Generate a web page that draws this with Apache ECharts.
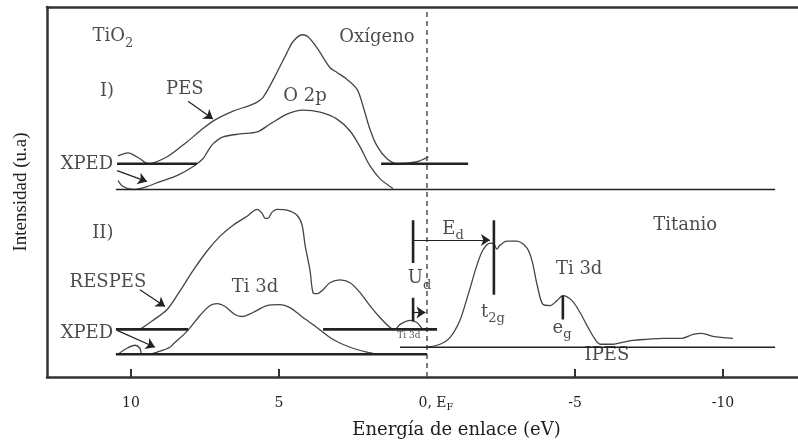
<!DOCTYPE html>
<html><head><meta charset="utf-8">
<script src="https://cdn.jsdelivr.net/npm/echarts@6/dist/echarts.min.js"></script>
<style>html,body{margin:0;padding:0;background:#fff}#c{width:798px;height:444px}</style>
</head><body><div id="c"></div>
<script>
// ---- Data (x = binding energy in eV, y = intensity in arbitrary units) ----
const xTickValues = [10, 5, -5, -10];
const xLabelValues = [10, 5, 0, -5, -10];
const fermiLevel = [[0,0],[0,373]];

// Panel I (Oxygen)
const pesI = [[10.44,223],[10.10,226],[9.70,220],[9.43,215],[8.78,222],[8.11,237],[7.67,248],[7.23,258],[6.55,268],[5.88,275],[5.54,282],[5.07,307],[4.73,327],[4.53,338],[4.22,345],[4.02,343],[3.72,332],[3.28,312],[3.04,307],[2.70,300],[2.36,290],[2.16,273],[1.93,250],[1.69,233],[1.35,220],[1.01,215],[0.34,217],[-0.05,222]];
const o2pI = [[10.44,198],[10.27,192],[9.93,189],[9.46,192],[9.02,197],[8.45,203],[7.91,212],[7.57,220],[7.40,228],[7.23,235],[6.89,242],[6.32,245],[5.74,247],[5.30,255],[4.73,265],[4.19,269],[3.61,267],[3.04,260],[2.60,248],[2.26,232],[1.93,213],[1.59,200],[1.15,190]];
const baselineI = [[10.51,189],[-11.76,189]];
const xpedI_a = [[10.47,215],[7.77,215]];
const xpedI_b = [[1.55,215],[-1.39,215]];

// Panel II (Titanium)
const respesII = [[9.70,48],[9.26,57],[8.78,68],[8.34,87],[7.91,107],[7.43,127],[6.99,142],[6.55,153],[6.08,162],[5.74,169],[5.57,165],[5.47,160],[5.37,160],[5.24,166],[5.07,169],[4.70,168],[4.39,163],[4.22,153],[4.12,133],[3.95,107],[3.85,85],[3.72,84],[3.51,88],[3.28,95],[2.94,98],[2.60,95],[2.26,85],[1.93,72],[1.59,60],[1.25,50],[1.08,48],[0.91,53],[0.57,57],[0.34,55],[0.20,50],[0.14,48]];
const ti3dII = [[10.44,23],[10.14,29],[9.86,32],[9.70,29],[9.63,23],[9.36,23],[9.12,25],[8.68,30],[8.58,33],[8.11,46],[7.67,62],[7.33,72],[7.09,74],[6.82,71],[6.49,63],[6.25,61],[5.88,65],[5.41,72],[4.97,73],[4.63,70],[4.19,60],[3.72,50],[3.18,38],[2.60,30],[2.03,25],[1.69,23]];
const ipesII = [[0,30],[-0.44,33],[-0.78,40],[-1.11,57],[-1.39,83],[-1.69,113],[-1.89,128],[-2.13,135],[-2.26,134],[-2.36,129],[-2.47,133],[-2.70,137],[-3.04,137],[-3.38,130],[-3.55,117],[-3.72,93],[-3.92,73],[-4.16,72],[-4.39,77],[-4.59,82],[-4.90,77],[-5.17,65],[-5.44,50],[-5.68,38],[-5.85,33],[-6.28,33],[-6.76,36],[-6.96,37],[-7.43,38],[-7.97,39],[-8.61,39],[-8.99,43],[-9.29,44],[-9.66,41],[-10.34,39]];
const baseII = [[10.51,23],[0,23]];
const baseIIright = [[0.91,30],[-11.76,30]];
const xpedII_a = [[10.51,48],[8.07,48]];
const xpedII_b = [[3.51,48],[-0.34,48]];

// Markers (vertical bars)
const udTop = [[0.47,158],[0.47,115]];
const udBottom = [[0.47,80],[0.47,56]];
const t2gBar = [[-2.26,158],[-2.26,83]];
const egBar = [[-4.59,82],[-4.59,58]];

// Arrows [from, to]
const arrows = [
  [[8.07,278],[7.23,260]],
  [[10.47,208],[9.46,197]],
  [[9.70,88],[8.85,71]],
  [[10.47,47],[9.19,30]],
  [[0.47,65],[0.05,65]],
  [[0.47,138],[-2.13,138]]
];

// Text annotations [x, y, text]
const annotations = [
  [10.61,343,'{n|TiO}{s|2}'],
  [10.81,288,'I)'],
  [8.18,290,'PES'],
  [4.12,283,'O 2p'],
  [1.69,342,'Oxígeno'],
  [11.49,214,'XPED'],
  [10.95,145,'II)'],
  [10.78,95,'RESPES'],
  [5.81,90,'Ti 3d'],
  [11.49,44,'XPED'],
  [0.25,99,'{n|U}{s|d}'],
  [0.61,42,'{t|Ti 3d}'],
  [-0.88,149,'{n|E}{s|d}'],
  [-8.72,153,'Titanio'],
  [-5.14,109,'Ti 3d'],
  [-2.23,65,'{n|t}{s|2g}'],
  [-4.56,49,'{n|e}{s|g}'],
  [-6.08,22,'IPES']
];

// ---- Chart ----
const FONT = 'DejaVu Serif';
const TXT = '#1e1e1e';
const chart = echarts.init(document.getElementById('c'), null, {renderer: 'canvas'});

function curve(data) {
  return {type: 'line', data: data, symbol: 'none', smooth: 0.3, silent: true,
    lineStyle: {width: 1.3, color: '#444'}, z: 3};
}
function seg(data, w) {
  return {type: 'line', data: data, symbol: 'none', smooth: false, silent: true,
    lineStyle: {width: w, color: '#222'}, z: 4};
}

const series = [
  {type: 'line', data: fermiLevel, symbol: 'none', silent: true, z: 2,
    lineStyle: {type: [5, 4], width: 1.4, color: '#444'}},
  curve(pesI), curve(o2pI), curve(respesII), curve(ti3dII), curve(ipesII),
  seg(baselineI, 1.3), seg(baseIIright, 1.3),
  seg(xpedI_a, 2.6), seg(xpedI_b, 2.6), seg(xpedII_a, 2.6), seg(xpedII_b, 2.6), seg(baseII, 2.6),
  seg(udTop, 2.6), seg(udBottom, 2.6), seg(t2gBar, 2.6), seg(egBar, 2.6),
  {
    type: 'line', data: [], silent: true,
    markLine: {
      silent: true, animation: false,
      symbol: ['none', 'arrow'], symbolSize: 9,
      label: {show: false},
      lineStyle: {type: 'solid', width: 1.2, color: '#222'},
      itemStyle: {color: '#222'},
      data: arrows.map(a => [{coord: a[0]}, {coord: a[1]}])
    }
  },
  {
    type: 'scatter', silent: true, symbolSize: 1, itemStyle: {color: 'rgba(0,0,0,0)'}, z: 5,
    data: annotations.map(a => ({value: [a[0], a[1]], label: {formatter: a[2]}})),
    label: {
      show: true, position: 'inside', fontFamily: FONT, fontSize: 18, color: TXT,
      rich: {
        n: {fontFamily: FONT, fontSize: 18, lineHeight: 26, color: TXT},
        s: {fontFamily: FONT, fontSize: 13, lineHeight: 14, verticalAlign: 'bottom', color: TXT},
        t: {fontFamily: FONT, fontSize: 9, color: TXT}
      }
    }
  }
];

chart.setOption({
  animation: false,
  grid: {left: 47, right: 0, top: 7, bottom: 64},
  xAxis: [
    {
      type: 'value', inverse: true, min: -12.534, max: 12.838,
      name: 'Energía de enlace (eV)', nameLocation: 'middle', nameGap: 44,
      nameTextStyle: {fontFamily: FONT, fontSize: 18, color: TXT, padding: [0, 0, 0, 68]},
      axisLine: {show: true, onZero: false, lineStyle: {color: '#333', width: 2.5}},
      axisTick: {show: true, inside: true, length: 8, customValues: xTickValues, lineStyle: {color: '#333', width: 2}},
      axisLabel: {
        show: true, margin: 17, customValues: xLabelValues, fontFamily: FONT, fontSize: 14, color: TXT,
        formatter: v => v === 0 ? '{z|0, E}{s|F}' : '{n|' + v + '}',
        rich: {
          n: {fontFamily: FONT, fontSize: 14, lineHeight: 18, color: TXT},
          z: {fontFamily: FONT, fontSize: 14, lineHeight: 18, color: TXT, padding: [0, 0, 0, 18]},
          s: {fontFamily: FONT, fontSize: 10, lineHeight: 10, verticalAlign: 'bottom', color: TXT}
        }
      },
      splitLine: {show: false}
    },
    {
      type: 'value', position: 'top', inverse: true, min: -12.534, max: 12.838,
      axisLine: {show: true, onZero: false, lineStyle: {color: '#333', width: 2.5}},
      axisTick: {show: false}, axisLabel: {show: false}, splitLine: {show: false}
    }
  ],
  yAxis: {
    type: 'value', min: 0, max: 373, position: 'left',
    name: 'Intensidad (u.a)', nameLocation: 'middle', nameGap: 16, nameRotate: 90,
    nameTextStyle: {fontFamily: 'Liberation Serif', fontSize: 19, color: TXT},
    axisLine: {show: true, onZero: false, lineStyle: {color: '#333', width: 2.5}},
    axisTick: {show: false}, axisLabel: {show: false}, splitLine: {show: false}
  },
  series: series
});
</script></body></html>
